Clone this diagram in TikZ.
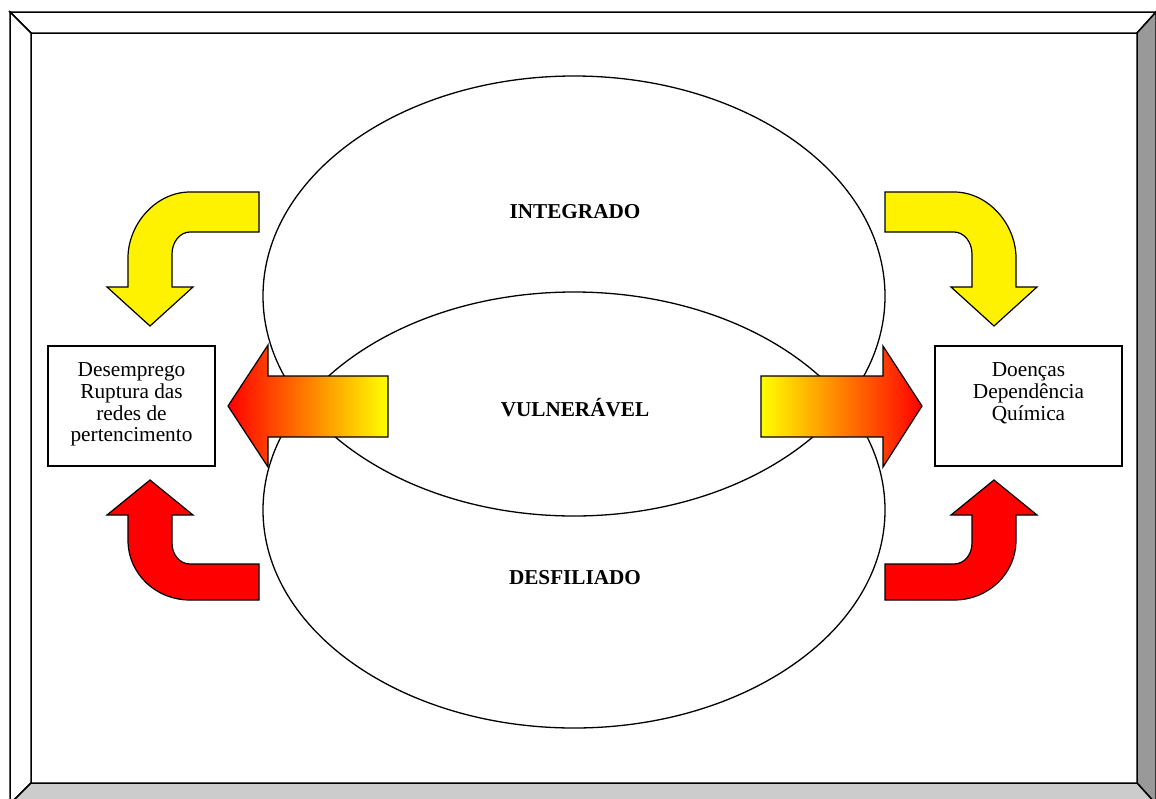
\documentclass[tikz,border=0pt]{standalone}
\usepackage{fontspec}
\setmainfont{Liberation Serif}
\usetikzlibrary{positioning}

\begin{document}
\begin{tikzpicture} [x = 1pt, y = -1pt,
  frameline/.style = {black, line width = 1.5pt, line join = miter},
  oval/.style = {black, line width = 1.3pt},
  shapearrow/.style = {black, line width = 1.2pt, line join = miter},
  boxed/.style = {draw, black, fill = white, line width = 1.2pt, minimum height = 120pt, inner sep = 0pt},
  boxtext/.style = {font = \fontsize{21.3}{21.8}\selectfont, align = center, inner sep = 0pt},
  level/.style = {font = \fontsize{21.2}{22}\selectfont\bfseries, inner sep = 0pt}]
\useasboundingbox (0.0, 0.0) rectangle (1156.0, 798.0);
\fill[white] (0.0, 0.0) rectangle (1156.0, 798.0);
\draw[frameline, fill = white] (10.0, 12.0) -- (1156.0, 12.0) -- (1137.0, 33.0) -- (31.0, 33.0) -- cycle;
\draw[frameline, fill = white] (10.0, 12.0) -- (31.0, 33.0) -- (31.0, 783.0) -- (10.0, 804.0) -- cycle;
\draw[frameline, fill = black!40] (1156.0, 12.0) -- (1156.0, 804.0) -- (1137.0, 783.0) -- (1137.0, 33.0) -- cycle;
\draw[frameline, fill = black!20] (31.0, 783.0) -- (1137.0, 783.0) -- (1156.0, 804.0) -- (10.0, 804.0) -- cycle;
\draw[oval] (574.0, 296.0) ellipse [x radius = 311pt, y radius = 220pt];
\draw[oval] (574.0, 510.0) ellipse [x radius = 311pt, y radius = 218pt];
\draw[shapearrow, fill = yellow] (259.0, 192.0) -- (190.0, 192.0) .. controls (156.0, 192.0) and (128.0, 224.0) .. (128.0, 258.0) -- (128.0, 287.0) -- (107.0, 287.0) -- (150.0, 326.0) -- (193.0, 287.0) -- (172.0, 287.0) -- (172.0, 254.0) .. controls (172.0, 242.0) and (180.0, 232.0) .. (190.0, 232.0) -- (259.0, 232.0) -- cycle;
\draw[shapearrow, fill = yellow] (885.0, 192.0) -- (954.0, 192.0) .. controls (988.0, 192.0) and (1016.0, 224.0) .. (1016.0, 258.0) -- (1016.0, 287.0) -- (1037.0, 287.0) -- (994.0, 326.0) -- (951.0, 287.0) -- (972.0, 287.0) -- (972.0, 254.0) .. controls (972.0, 242.0) and (964.0, 232.0) .. (954.0, 232.0) -- (885.0, 232.0) -- cycle;
\draw[shapearrow, fill = red] (150.0, 480.0) -- (193.0, 515.0) -- (172.0, 515.0) -- (172.0, 543.0) .. controls (172.0, 555.0) and (180.0, 564.0) .. (190.0, 564.0) -- (259.0, 564.0) -- (259.0, 600.0) -- (190.0, 600.0) .. controls (156.0, 600.0) and (128.0, 574.0) .. (128.0, 540.0) -- (128.0, 515.0) -- (107.0, 515.0) -- cycle;
\draw[shapearrow, fill = red] (994.0, 480.0) -- (951.0, 515.0) -- (972.0, 515.0) -- (972.0, 543.0) .. controls (972.0, 555.0) and (964.0, 564.0) .. (954.0, 564.0) -- (885.0, 564.0) -- (885.0, 600.0) -- (954.0, 600.0) .. controls (988.0, 600.0) and (1016.0, 574.0) .. (1016.0, 540.0) -- (1016.0, 515.0) -- (1037.0, 515.0) -- cycle;
\draw[shapearrow, left color = red, right color = yellow, middle color = orange] (228.0, 406.0) -- (268.0, 345.0) -- (268.0, 376.0) -- (388.0, 376.0) -- (388.0, 437.0) -- (268.0, 437.0) -- (268.0, 467.0) -- cycle;
\draw[shapearrow, left color = yellow, right color = red, middle color = orange] (761.0, 376.0) -- (883.0, 376.0) -- (883.0, 346.0) -- (922.0, 406.0) -- (883.0, 467.0) -- (883.0, 437.0) -- (761.0, 437.0) -- cycle;
\node[boxed, minimum width = 167pt] (esq) at (131.5, 406.0){};
\node[boxed, minimum width = 187pt] (dir) at (1028.5, 406.0){};
\node[boxtext, below = 17pt of esq.north] (esqtext){Desemprego\\Ruptura das\\redes de\\pertencimento};
\node[boxtext, below = 17pt of dir.north] (dirtext){Doenças\\Dependência\\Química};
\node[level] (integrado) at (575.0, 212.0){INTEGRADO};
\node[level] (vulneravel) at (575.0, 408.0){VULNERÁVEL};
\node[level] (desfiliado) at (575.0, 578.0){DESFILIADO};
\end{tikzpicture}
\end{document}
